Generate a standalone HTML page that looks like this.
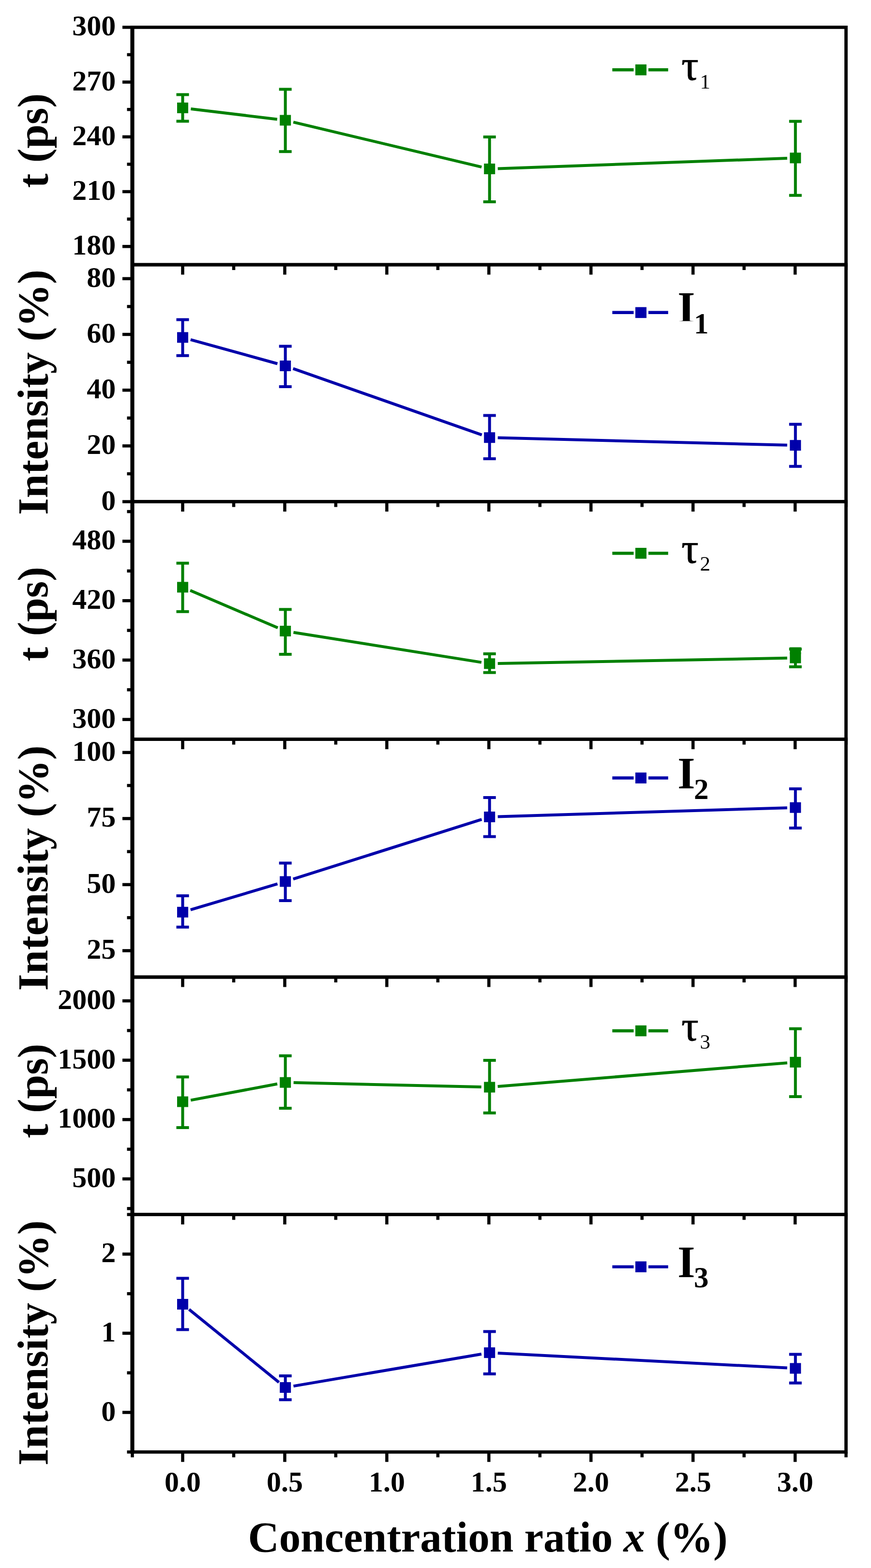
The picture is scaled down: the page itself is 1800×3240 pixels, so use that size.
<!DOCTYPE html><html><head><meta charset="utf-8"><title>Lifetime components vs concentration</title><style>html,body{margin:0;padding:0;background:#fff}svg{display:block}text{font-family:"Liberation Serif","Times New Roman",serif}</style></head><body>
<svg width="1800" height="3240" viewBox="0 0 1800 3240">
<rect width="1800" height="3240" fill="#fff"/>
<g stroke="#000" stroke-width="6.5" fill="none"><line x1="253.0" y1="509.3" x2="273.5" y2="509.3"/><line x1="253.0" y1="396.0" x2="273.5" y2="396.0"/><line x1="253.0" y1="282.8" x2="273.5" y2="282.8"/><line x1="253.0" y1="169.6" x2="273.5" y2="169.6"/><line x1="253.0" y1="56.4" x2="273.5" y2="56.4"/><line x1="262.5" y1="452.7" x2="273.5" y2="452.7"/><line x1="262.5" y1="339.4" x2="273.5" y2="339.4"/><line x1="262.5" y1="226.2" x2="273.5" y2="226.2"/><line x1="262.5" y1="113.0" x2="273.5" y2="113.0"/><line x1="377.5" y1="547.0" x2="377.5" y2="567.5"/><line x1="588.5" y1="547.0" x2="588.5" y2="567.5"/><line x1="799.4" y1="547.0" x2="799.4" y2="567.5"/><line x1="1010.3" y1="547.0" x2="1010.3" y2="567.5"/><line x1="1221.3" y1="547.0" x2="1221.3" y2="567.5"/><line x1="1432.2" y1="547.0" x2="1432.2" y2="567.5"/><line x1="1643.2" y1="547.0" x2="1643.2" y2="567.5"/><line x1="273.5" y1="547.0" x2="273.5" y2="558.0"/><line x1="483.0" y1="547.0" x2="483.0" y2="558.0"/><line x1="693.9" y1="547.0" x2="693.9" y2="558.0"/><line x1="904.9" y1="547.0" x2="904.9" y2="558.0"/><line x1="1115.8" y1="547.0" x2="1115.8" y2="558.0"/><line x1="1326.8" y1="547.0" x2="1326.8" y2="558.0"/><line x1="1537.7" y1="547.0" x2="1537.7" y2="558.0"/><line x1="1748.4" y1="547.0" x2="1748.4" y2="558.0"/></g>
<g font-size="60" font-weight="bold" text-anchor="end"><text x="239.2" y="526.3">180</text><text x="239.2" y="413.0">210</text><text x="239.2" y="299.8">240</text><text x="239.2" y="186.6">270</text><text x="239.2" y="73.4">300</text></g>
<text font-size="89" font-weight="bold" transform="translate(97.5 388.2) rotate(-90)">t (ps)</text>
<g stroke="#008000" stroke-width="6" fill="none"><line x1="394.4" y1="224.9" x2="572.8" y2="246.5"/><line x1="606.2" y1="252.4" x2="995.2" y2="345.1"/><line x1="1028.7" y1="348.4" x2="1626.8" y2="327.0"/></g>
<g stroke="#008000" stroke-width="6" fill="none"><line x1="377.5" y1="195.5" x2="377.5" y2="250.5"/><line x1="364.5" y1="195.5" x2="390.5" y2="195.5"/><line x1="364.5" y1="250.5" x2="390.5" y2="250.5"/><line x1="589.7" y1="184.5" x2="589.7" y2="313.2"/><line x1="576.7" y1="184.5" x2="602.7" y2="184.5"/><line x1="576.7" y1="313.2" x2="602.7" y2="313.2"/><line x1="1011.7" y1="283.0" x2="1011.7" y2="417.0"/><line x1="998.7" y1="283.0" x2="1024.7" y2="283.0"/><line x1="998.7" y1="417.0" x2="1024.7" y2="417.0"/><line x1="1643.8" y1="250.7" x2="1643.8" y2="403.7"/><line x1="1630.8" y1="250.7" x2="1656.8" y2="250.7"/><line x1="1630.8" y1="403.7" x2="1656.8" y2="403.7"/></g>
<g fill="#008000"><rect x="366.0" y="211.9" width="23" height="22"/><rect x="578.2" y="237.5" width="23" height="22"/><rect x="1000.2" y="338.0" width="23" height="22"/><rect x="1632.3" y="315.4" width="23" height="22"/></g>
<g stroke="#008000" stroke-width="6.4"><line x1="1265.4" y1="144.3" x2="1309.5" y2="144.3"/><line x1="1340" y1="144.3" x2="1380.8" y2="144.3"/></g>
<rect x="1313" y="133.1" width="23" height="22.5" fill="#008000"/>
<text x="1408" y="165.4" font-size="89" stroke="#000" stroke-width="0.8">&#964;</text>
<text x="1446.5" y="182.7" font-size="43">1</text>
<g stroke="#000" stroke-width="6.5" fill="none"><line x1="253.0" y1="1036.6" x2="273.5" y2="1036.6"/><line x1="253.0" y1="921.4" x2="273.5" y2="921.4"/><line x1="253.0" y1="806.2" x2="273.5" y2="806.2"/><line x1="253.0" y1="691.0" x2="273.5" y2="691.0"/><line x1="253.0" y1="575.8" x2="273.5" y2="575.8"/><line x1="262.5" y1="979.0" x2="273.5" y2="979.0"/><line x1="262.5" y1="863.8" x2="273.5" y2="863.8"/><line x1="262.5" y1="748.6" x2="273.5" y2="748.6"/><line x1="262.5" y1="633.4" x2="273.5" y2="633.4"/><line x1="377.5" y1="1036.6" x2="377.5" y2="1057.1"/><line x1="588.5" y1="1036.6" x2="588.5" y2="1057.1"/><line x1="799.4" y1="1036.6" x2="799.4" y2="1057.1"/><line x1="1010.3" y1="1036.6" x2="1010.3" y2="1057.1"/><line x1="1221.3" y1="1036.6" x2="1221.3" y2="1057.1"/><line x1="1432.2" y1="1036.6" x2="1432.2" y2="1057.1"/><line x1="1643.2" y1="1036.6" x2="1643.2" y2="1057.1"/><line x1="273.5" y1="1036.6" x2="273.5" y2="1047.6"/><line x1="483.0" y1="1036.6" x2="483.0" y2="1047.6"/><line x1="693.9" y1="1036.6" x2="693.9" y2="1047.6"/><line x1="904.9" y1="1036.6" x2="904.9" y2="1047.6"/><line x1="1115.8" y1="1036.6" x2="1115.8" y2="1047.6"/><line x1="1326.8" y1="1036.6" x2="1326.8" y2="1047.6"/><line x1="1537.7" y1="1036.6" x2="1537.7" y2="1047.6"/><line x1="1748.4" y1="1036.6" x2="1748.4" y2="1047.6"/></g>
<g font-size="60" font-weight="bold" text-anchor="end"><text x="239.2" y="1053.6">0</text><text x="239.2" y="938.4">20</text><text x="239.2" y="823.2">40</text><text x="239.2" y="708.0">60</text><text x="239.2" y="592.8">80</text></g>
<text font-size="89" font-weight="bold" transform="translate(97.5 1063.9) rotate(-90)">Intensity (%)</text>
<g stroke="#0000AA" stroke-width="6" fill="none"><line x1="393.9" y1="701.8" x2="573.3" y2="751.5"/><line x1="605.7" y1="761.6" x2="995.7" y2="898.6"/><line x1="1028.7" y1="904.6" x2="1626.8" y2="919.8"/></g>
<g stroke="#0000AA" stroke-width="6" fill="none"><line x1="377.5" y1="660.5" x2="377.5" y2="734.8"/><line x1="364.5" y1="660.5" x2="390.5" y2="660.5"/><line x1="364.5" y1="734.8" x2="390.5" y2="734.8"/><line x1="589.7" y1="715.5" x2="589.7" y2="799.0"/><line x1="576.7" y1="715.5" x2="602.7" y2="715.5"/><line x1="576.7" y1="799.0" x2="602.7" y2="799.0"/><line x1="1011.7" y1="858.5" x2="1011.7" y2="947.9"/><line x1="998.7" y1="858.5" x2="1024.7" y2="858.5"/><line x1="998.7" y1="947.9" x2="1024.7" y2="947.9"/><line x1="1643.8" y1="876.7" x2="1643.8" y2="963.7"/><line x1="1630.8" y1="876.7" x2="1656.8" y2="876.7"/><line x1="1630.8" y1="963.7" x2="1656.8" y2="963.7"/></g>
<g fill="#0000AA"><rect x="366.0" y="686.3" width="23" height="22"/><rect x="578.2" y="745.0" width="23" height="22"/><rect x="1000.2" y="893.2" width="23" height="22"/><rect x="1632.3" y="909.2" width="23" height="22"/></g>
<g stroke="#0000AA" stroke-width="6.4"><line x1="1265.4" y1="645.8" x2="1309.5" y2="645.8"/><line x1="1340" y1="645.8" x2="1380.8" y2="645.8"/></g>
<rect x="1313" y="634.6" width="23" height="22.5" fill="#0000AA"/>
<clipPath id="c1"><rect x="1390" y="590" width="60" height="73.6"/></clipPath>
<text x="1400.3" y="666.6" font-size="93" font-weight="bold" clip-path="url(#c1)">I</text>
<text x="1434" y="689.0" font-size="61" font-weight="bold">1</text>
<g stroke="#000" stroke-width="6.5" fill="none"><line x1="253.0" y1="1486.7" x2="273.5" y2="1486.7"/><line x1="253.0" y1="1363.9" x2="273.5" y2="1363.9"/><line x1="253.0" y1="1241.2" x2="273.5" y2="1241.2"/><line x1="253.0" y1="1118.4" x2="273.5" y2="1118.4"/><line x1="262.5" y1="1425.3" x2="273.5" y2="1425.3"/><line x1="262.5" y1="1302.6" x2="273.5" y2="1302.6"/><line x1="262.5" y1="1179.8" x2="273.5" y2="1179.8"/><line x1="262.5" y1="1057.1" x2="273.5" y2="1057.1"/><line x1="377.5" y1="1527.6" x2="377.5" y2="1548.1"/><line x1="588.5" y1="1527.6" x2="588.5" y2="1548.1"/><line x1="799.4" y1="1527.6" x2="799.4" y2="1548.1"/><line x1="1010.3" y1="1527.6" x2="1010.3" y2="1548.1"/><line x1="1221.3" y1="1527.6" x2="1221.3" y2="1548.1"/><line x1="1432.2" y1="1527.6" x2="1432.2" y2="1548.1"/><line x1="1643.2" y1="1527.6" x2="1643.2" y2="1548.1"/><line x1="273.5" y1="1527.6" x2="273.5" y2="1538.6"/><line x1="483.0" y1="1527.6" x2="483.0" y2="1538.6"/><line x1="693.9" y1="1527.6" x2="693.9" y2="1538.6"/><line x1="904.9" y1="1527.6" x2="904.9" y2="1538.6"/><line x1="1115.8" y1="1527.6" x2="1115.8" y2="1538.6"/><line x1="1326.8" y1="1527.6" x2="1326.8" y2="1538.6"/><line x1="1537.7" y1="1527.6" x2="1537.7" y2="1538.6"/><line x1="1748.4" y1="1527.6" x2="1748.4" y2="1538.6"/></g>
<g font-size="60" font-weight="bold" text-anchor="end"><text x="239.2" y="1503.7">300</text><text x="239.2" y="1380.9">360</text><text x="239.2" y="1258.2">420</text><text x="239.2" y="1135.4">480</text></g>
<text font-size="89" font-weight="bold" transform="translate(97.5 1366.4) rotate(-90)">t (ps)</text>
<g stroke="#008000" stroke-width="6" fill="none"><line x1="393.1" y1="1220.1" x2="574.1" y2="1297.3"/><line x1="606.5" y1="1306.7" x2="994.9" y2="1368.6"/><line x1="1028.7" y1="1371.0" x2="1626.8" y2="1359.8"/></g>
<g stroke="#008000" stroke-width="6" fill="none"><line x1="377.5" y1="1163.7" x2="377.5" y2="1263.8"/><line x1="364.5" y1="1163.7" x2="390.5" y2="1163.7"/><line x1="364.5" y1="1263.8" x2="390.5" y2="1263.8"/><line x1="589.7" y1="1259.3" x2="589.7" y2="1352.0"/><line x1="576.7" y1="1259.3" x2="602.7" y2="1259.3"/><line x1="576.7" y1="1352.0" x2="602.7" y2="1352.0"/><line x1="1011.7" y1="1351.0" x2="1011.7" y2="1389.7"/><line x1="998.7" y1="1351.0" x2="1024.7" y2="1351.0"/><line x1="998.7" y1="1389.7" x2="1024.7" y2="1389.7"/><line x1="1643.8" y1="1341.2" x2="1643.8" y2="1377.8"/><line x1="1630.8" y1="1341.2" x2="1656.8" y2="1341.2"/><line x1="1630.8" y1="1377.8" x2="1656.8" y2="1377.8"/></g>
<g fill="#008000"><rect x="366.0" y="1202.4" width="23" height="22"/><rect x="578.2" y="1293.0" width="23" height="22"/><rect x="1000.2" y="1360.3" width="23" height="22"/><rect x="1632.3" y="1348.5" width="23" height="22"/><rect x="1632.3" y="1337.5" width="23" height="14"/></g>
<g stroke="#008000" stroke-width="6.4"><line x1="1265.4" y1="1143.2" x2="1309.5" y2="1143.2"/><line x1="1340" y1="1143.2" x2="1380.8" y2="1143.2"/></g>
<rect x="1313" y="1132.0" width="23" height="22.5" fill="#008000"/>
<text x="1408" y="1162.8" font-size="89" stroke="#000" stroke-width="0.8">&#964;</text>
<text x="1446.5" y="1179.0" font-size="43">2</text>
<g stroke="#000" stroke-width="6.5" fill="none"><line x1="253.0" y1="1964.4" x2="273.5" y2="1964.4"/><line x1="253.0" y1="1827.9" x2="273.5" y2="1827.9"/><line x1="253.0" y1="1691.4" x2="273.5" y2="1691.4"/><line x1="253.0" y1="1554.9" x2="273.5" y2="1554.9"/><line x1="262.5" y1="1896.2" x2="273.5" y2="1896.2"/><line x1="262.5" y1="1759.7" x2="273.5" y2="1759.7"/><line x1="262.5" y1="1623.1" x2="273.5" y2="1623.1"/><line x1="377.5" y1="2019.0" x2="377.5" y2="2039.5"/><line x1="588.5" y1="2019.0" x2="588.5" y2="2039.5"/><line x1="799.4" y1="2019.0" x2="799.4" y2="2039.5"/><line x1="1010.3" y1="2019.0" x2="1010.3" y2="2039.5"/><line x1="1221.3" y1="2019.0" x2="1221.3" y2="2039.5"/><line x1="1432.2" y1="2019.0" x2="1432.2" y2="2039.5"/><line x1="1643.2" y1="2019.0" x2="1643.2" y2="2039.5"/><line x1="273.5" y1="2019.0" x2="273.5" y2="2030.0"/><line x1="483.0" y1="2019.0" x2="483.0" y2="2030.0"/><line x1="693.9" y1="2019.0" x2="693.9" y2="2030.0"/><line x1="904.9" y1="2019.0" x2="904.9" y2="2030.0"/><line x1="1115.8" y1="2019.0" x2="1115.8" y2="2030.0"/><line x1="1326.8" y1="2019.0" x2="1326.8" y2="2030.0"/><line x1="1537.7" y1="2019.0" x2="1537.7" y2="2030.0"/><line x1="1748.4" y1="2019.0" x2="1748.4" y2="2030.0"/></g>
<g font-size="60" font-weight="bold" text-anchor="end"><text x="239.2" y="1981.4">25</text><text x="239.2" y="1844.9">50</text><text x="239.2" y="1708.4">75</text><text x="239.2" y="1571.9">100</text></g>
<text font-size="89" font-weight="bold" transform="translate(97.5 2047.2) rotate(-90)">Intensity (%)</text>
<g stroke="#0000AA" stroke-width="6" fill="none"><line x1="393.8" y1="1879.9" x2="573.4" y2="1826.4"/><line x1="605.9" y1="1816.4" x2="995.5" y2="1693.1"/><line x1="1028.7" y1="1687.5" x2="1626.8" y2="1669.2"/></g>
<g stroke="#0000AA" stroke-width="6" fill="none"><line x1="377.5" y1="1851.0" x2="377.5" y2="1915.7"/><line x1="364.5" y1="1851.0" x2="390.5" y2="1851.0"/><line x1="364.5" y1="1915.7" x2="390.5" y2="1915.7"/><line x1="589.7" y1="1783.4" x2="589.7" y2="1861.0"/><line x1="576.7" y1="1783.4" x2="602.7" y2="1783.4"/><line x1="576.7" y1="1861.0" x2="602.7" y2="1861.0"/><line x1="1011.7" y1="1648.0" x2="1011.7" y2="1728.7"/><line x1="998.7" y1="1648.0" x2="1024.7" y2="1648.0"/><line x1="998.7" y1="1728.7" x2="1024.7" y2="1728.7"/><line x1="1643.8" y1="1630.0" x2="1643.8" y2="1711.0"/><line x1="1630.8" y1="1630.0" x2="1656.8" y2="1630.0"/><line x1="1630.8" y1="1711.0" x2="1656.8" y2="1711.0"/></g>
<g fill="#0000AA"><rect x="366.0" y="1873.8" width="23" height="22"/><rect x="578.2" y="1810.5" width="23" height="22"/><rect x="1000.2" y="1677.0" width="23" height="22"/><rect x="1632.3" y="1657.7" width="23" height="22"/></g>
<g stroke="#0000AA" stroke-width="6.4"><line x1="1265.4" y1="1607.5" x2="1309.5" y2="1607.5"/><line x1="1340" y1="1607.5" x2="1380.8" y2="1607.5"/></g>
<rect x="1313" y="1596.3" width="23" height="22.5" fill="#0000AA"/>
<text x="1400.3" y="1628.7" font-size="93" font-weight="bold">I</text>
<text x="1434" y="1650.8" font-size="61" font-weight="bold">2</text>
<g stroke="#000" stroke-width="6.5" fill="none"><line x1="253.0" y1="2436.0" x2="273.5" y2="2436.0"/><line x1="253.0" y1="2313.4" x2="273.5" y2="2313.4"/><line x1="253.0" y1="2190.7" x2="273.5" y2="2190.7"/><line x1="253.0" y1="2068.1" x2="273.5" y2="2068.1"/><line x1="262.5" y1="2497.3" x2="273.5" y2="2497.3"/><line x1="262.5" y1="2374.7" x2="273.5" y2="2374.7"/><line x1="262.5" y1="2252.0" x2="273.5" y2="2252.0"/><line x1="262.5" y1="2129.4" x2="273.5" y2="2129.4"/><line x1="377.5" y1="2509.6" x2="377.5" y2="2530.1"/><line x1="588.5" y1="2509.6" x2="588.5" y2="2530.1"/><line x1="799.4" y1="2509.6" x2="799.4" y2="2530.1"/><line x1="1010.3" y1="2509.6" x2="1010.3" y2="2530.1"/><line x1="1221.3" y1="2509.6" x2="1221.3" y2="2530.1"/><line x1="1432.2" y1="2509.6" x2="1432.2" y2="2530.1"/><line x1="1643.2" y1="2509.6" x2="1643.2" y2="2530.1"/><line x1="273.5" y1="2509.6" x2="273.5" y2="2520.6"/><line x1="483.0" y1="2509.6" x2="483.0" y2="2520.6"/><line x1="693.9" y1="2509.6" x2="693.9" y2="2520.6"/><line x1="904.9" y1="2509.6" x2="904.9" y2="2520.6"/><line x1="1115.8" y1="2509.6" x2="1115.8" y2="2520.6"/><line x1="1326.8" y1="2509.6" x2="1326.8" y2="2520.6"/><line x1="1537.7" y1="2509.6" x2="1537.7" y2="2520.6"/><line x1="1748.4" y1="2509.6" x2="1748.4" y2="2520.6"/></g>
<g font-size="60" font-weight="bold" text-anchor="end"><text x="239.2" y="2453.0">500</text><text x="239.2" y="2330.4">1000</text><text x="239.2" y="2207.7">1500</text><text x="239.2" y="2085.1">2000</text></g>
<text font-size="89" font-weight="bold" transform="translate(97.5 2352.0) rotate(-90)">t (ps)</text>
<g stroke="#008000" stroke-width="6" fill="none"><line x1="394.2" y1="2273.4" x2="573.0" y2="2239.8"/><line x1="606.7" y1="2237.1" x2="994.7" y2="2246.1"/><line x1="1028.6" y1="2245.1" x2="1626.9" y2="2196.2"/></g>
<g stroke="#008000" stroke-width="6" fill="none"><line x1="377.5" y1="2225.3" x2="377.5" y2="2330.0"/><line x1="364.5" y1="2225.3" x2="390.5" y2="2225.3"/><line x1="364.5" y1="2330.0" x2="390.5" y2="2330.0"/><line x1="589.7" y1="2181.6" x2="589.7" y2="2290.0"/><line x1="576.7" y1="2181.6" x2="602.7" y2="2181.6"/><line x1="576.7" y1="2290.0" x2="602.7" y2="2290.0"/><line x1="1011.7" y1="2191.0" x2="1011.7" y2="2299.7"/><line x1="998.7" y1="2191.0" x2="1024.7" y2="2191.0"/><line x1="998.7" y1="2299.7" x2="1024.7" y2="2299.7"/><line x1="1643.8" y1="2125.7" x2="1643.8" y2="2266.0"/><line x1="1630.8" y1="2125.7" x2="1656.8" y2="2125.7"/><line x1="1630.8" y1="2266.0" x2="1656.8" y2="2266.0"/></g>
<g fill="#008000"><rect x="366.0" y="2265.5" width="23" height="22"/><rect x="578.2" y="2225.7" width="23" height="22"/><rect x="1000.2" y="2235.5" width="23" height="22"/><rect x="1632.3" y="2183.8" width="23" height="22"/></g>
<g stroke="#008000" stroke-width="6.4"><line x1="1265.4" y1="2130.0" x2="1309.5" y2="2130.0"/><line x1="1340" y1="2130.0" x2="1380.8" y2="2130.0"/></g>
<rect x="1313" y="2118.8" width="23" height="22.5" fill="#008000"/>
<text x="1408" y="2150.0" font-size="89" stroke="#000" stroke-width="0.8">&#964;</text>
<text x="1446.5" y="2167.2" font-size="43">3</text>
<g stroke="#000" stroke-width="6.5" fill="none"><line x1="253.0" y1="2918.5" x2="273.5" y2="2918.5"/><line x1="253.0" y1="2754.9" x2="273.5" y2="2754.9"/><line x1="253.0" y1="2591.4" x2="273.5" y2="2591.4"/><line x1="262.5" y1="3000.3" x2="273.5" y2="3000.3"/><line x1="262.5" y1="2836.7" x2="273.5" y2="2836.7"/><line x1="262.5" y1="2673.2" x2="273.5" y2="2673.2"/><line x1="262.5" y1="2509.6" x2="273.5" y2="2509.6"/><line x1="377.5" y1="3000.3" x2="377.5" y2="3020.8"/><line x1="588.5" y1="3000.3" x2="588.5" y2="3020.8"/><line x1="799.4" y1="3000.3" x2="799.4" y2="3020.8"/><line x1="1010.3" y1="3000.3" x2="1010.3" y2="3020.8"/><line x1="1221.3" y1="3000.3" x2="1221.3" y2="3020.8"/><line x1="1432.2" y1="3000.3" x2="1432.2" y2="3020.8"/><line x1="1643.2" y1="3000.3" x2="1643.2" y2="3020.8"/><line x1="273.5" y1="3000.3" x2="273.5" y2="3011.3"/><line x1="483.0" y1="3000.3" x2="483.0" y2="3011.3"/><line x1="693.9" y1="3000.3" x2="693.9" y2="3011.3"/><line x1="904.9" y1="3000.3" x2="904.9" y2="3011.3"/><line x1="1115.8" y1="3000.3" x2="1115.8" y2="3011.3"/><line x1="1326.8" y1="3000.3" x2="1326.8" y2="3011.3"/><line x1="1537.7" y1="3000.3" x2="1537.7" y2="3011.3"/><line x1="1748.4" y1="3000.3" x2="1748.4" y2="3011.3"/></g>
<g font-size="60" font-weight="bold" text-anchor="end"><text x="239.2" y="2935.5">0</text><text x="239.2" y="2771.9">1</text><text x="239.2" y="2608.4">2</text></g>
<text font-size="89" font-weight="bold" transform="translate(97.5 3028.3) rotate(-90)">Intensity (%)</text>
<g stroke="#0000AA" stroke-width="6" fill="none"><line x1="390.7" y1="2705.7" x2="576.5" y2="2856.3"/><line x1="606.5" y1="2864.1" x2="994.9" y2="2798.0"/><line x1="1028.7" y1="2796.0" x2="1626.8" y2="2826.6"/></g>
<g stroke="#0000AA" stroke-width="6" fill="none"><line x1="377.5" y1="2641.4" x2="377.5" y2="2747.4"/><line x1="364.5" y1="2641.4" x2="390.5" y2="2641.4"/><line x1="364.5" y1="2747.4" x2="390.5" y2="2747.4"/><line x1="589.7" y1="2843.0" x2="589.7" y2="2892.3"/><line x1="576.7" y1="2843.0" x2="602.7" y2="2843.0"/><line x1="576.7" y1="2892.3" x2="602.7" y2="2892.3"/><line x1="1011.7" y1="2751.4" x2="1011.7" y2="2838.9"/><line x1="998.7" y1="2751.4" x2="1024.7" y2="2751.4"/><line x1="998.7" y1="2838.9" x2="1024.7" y2="2838.9"/><line x1="1643.8" y1="2798.5" x2="1643.8" y2="2857.7"/><line x1="1630.8" y1="2798.5" x2="1656.8" y2="2798.5"/><line x1="1630.8" y1="2857.7" x2="1656.8" y2="2857.7"/></g>
<g fill="#0000AA"><rect x="366.0" y="2684.0" width="23" height="22"/><rect x="578.2" y="2856.0" width="23" height="22"/><rect x="1000.2" y="2784.1" width="23" height="22"/><rect x="1632.3" y="2816.5" width="23" height="22"/></g>
<g stroke="#0000AA" stroke-width="6.4"><line x1="1265.4" y1="2617.6" x2="1309.5" y2="2617.6"/><line x1="1340" y1="2617.6" x2="1380.8" y2="2617.6"/></g>
<rect x="1313" y="2606.4" width="23" height="22.5" fill="#0000AA"/>
<text x="1400.3" y="2638.7" font-size="93" font-weight="bold">I</text>
<text x="1434" y="2660.0" font-size="61" font-weight="bold">3</text>
<g stroke="#000" stroke-width="6.8" fill="none"><rect x="273.5" y="56.4" width="1474.9" height="490.6"/><rect x="273.5" y="547.0" width="1474.9" height="489.6"/><rect x="273.5" y="1036.6" width="1474.9" height="491.0"/><rect x="273.5" y="1527.6" width="1474.9" height="491.4"/><rect x="273.5" y="2019.0" width="1474.9" height="490.6"/><rect x="273.5" y="2509.6" width="1474.9" height="490.7"/></g>
<line x1="273.5" y1="52.9" x2="273.5" y2="3003.8" stroke="#000" stroke-width="8.2"/>
<g font-size="60" font-weight="bold" text-anchor="middle"><text x="377.5" y="3082">0.0</text><text x="588.5" y="3082">0.5</text><text x="799.4" y="3082">1.0</text><text x="1010.3" y="3082">1.5</text><text x="1221.3" y="3082">2.0</text><text x="1432.2" y="3082">2.5</text><text x="1643.2" y="3082">3.0</text></g>
<text x="512.4" y="3206" font-size="89" font-weight="bold">Concentration ratio <tspan font-style="italic">x</tspan> (%)</text>
</svg></body></html>
